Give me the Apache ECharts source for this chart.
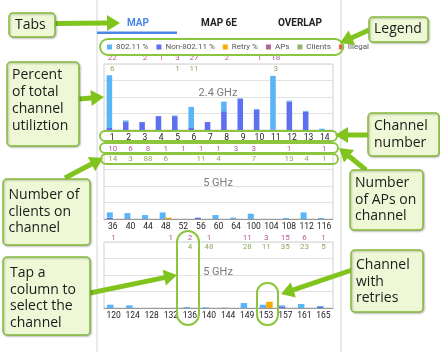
<!DOCTYPE html>
<html>
<head>
<meta charset="utf-8">
<script src="https://cdn.jsdelivr.net/npm/echarts@6/dist/echarts.min.js"></script>
<style>
html, body { margin: 0; padding: 0; background: #fff; }
#chart { width: 440px; height: 352px; }
</style>
</head>
<body>
<div id="chart"></div>
<script>
// 2.4 GHz band
const channels24 = ['1', '2', '3', '4', '5', '6', '7', '8', '9', '10', '11', '12', '13', '14']
const non24 = [3, 13, 12, 21, 21, 3, 12, 28.5, 47, 31, 1, 43, 28, 0]
const wifi24 = [80, 1.5, 0, 0, 1, 32, 0, 14.5, 1, 1, 81, 1.5, 1, 2]
const retry24 = [0, 0, 0, 0, 0, 0, 0, 0, 0, 0, 0, 0, 0, 0]
const aps24 = ['22', '', '2', '1', '3', '27', '', '2', '', '1', '18', '', '', '']
const clients24 = ['6', '', '', '', '1', '11', '', '', '', '', '3', '', '', '']

// 5 GHz, lower channels
const channels5a = ['36', '40', '44', '48', '52', '56', '60', '64', '100', '104', '108', '112', '116']
const non5a = [2, 1, 0, 0, 0, 2, 0, 0, 0, 0, 0, 0, 0]
const wifi5a = [8, 8, 6, 10, 0, 0, 6, 2, 8, 0, 1.5, 10, 1.5]
const retry5a = [0, 0, 0, 2, 0, 0, 0, 0, 0, 0, 0, 0, 0]
const aps5a = ['10', '6', '8', '1', '1', '1', '1', '3', '3', '', '1', '', '1']
const clients5a = ['14', '3', '88', '6', '', '11', '4', '', '7', '', '13', '4', '1']

// 5 GHz, upper channels
const channels5b = ['120', '124', '128', '132', '136', '140', '144', '149', '153', '157', '161', '165']
const non5b = [0, 0, 0, 0, 0, 0, 0, 0, 1, 2.5, 0, 1.5]
const wifi5b = [5, 4, 0, 0, 1.5, 1, 0.5, 7.5, 4, 1.5, 6, 1.5]
const retry5b = [0, 0, 0, 0, 0, 0, 0, 0, 9.5, 0, 0, 0]
const aps5b = ['1', '', '', '1', '2', '1', '', '11', '3', '15', '6', '1']
const clients5b = ['', '', '', '', '4', '48', '', '28', '11', '35', '23', '5']

const bandTitles = ['2.4 GHz', '5 GHz', '5 GHz']
const tabNames = ['MAP', 'MAP 6E', 'OVERLAP']
const legendNames = ['802.11 %', 'Non-802.11 %', 'Retry %', 'APs', 'Clients', 'Illegal']

const C_WIFI = '#5ab5f6'
const C_NON = '#5e6ff0'
const C_RETRY = '#f6a900'
const C_APS = '#9e3f7e'
const C_CLIENTS = '#7c9f4e'
const C_ILLEGAL = '#e53935'
const FONT = 'Roboto'

const bands = [
    { chans: channels24, non: non24, wifi: wifi24, retry: retry24, aps: aps24, clients: clients24, top: 64, apsMargin: 2, cliMargin: 1 },
    { chans: channels5a, non: non5a, wifi: wifi5a, retry: retry5a, aps: aps5a, clients: clients5a, top: 153, apsMargin: 0, cliMargin: 2 },
    { chans: channels5b, non: non5b, wifi: wifi5b, retry: retry5b, aps: aps5b, clients: clients5b, top: 242, apsMargin: 0, cliMargin: 1 }
]

const grids = []
const xAxes = []
const yAxes = []
const series = []

bands.forEach((b, i) => {
    grids.push({ left: 104, width: 229, top: b.top, height: 66, show: true, borderColor: '#d0d0d0', borderWidth: 1 })
    // channel numbers
    xAxes.push({
        gridIndex: i, type: 'category', data: b.chans,
        axisLine: { lineStyle: { color: '#9a9a9a' } },
        axisTick: { show: false },
        axisLabel: { interval: 0, color: '#222', fontSize: 8.5, fontFamily: FONT, margin: 3 }
    })
    // APs row
    xAxes.push({
        gridIndex: i, type: 'category', position: 'top', data: b.chans,
        axisLine: { show: false }, axisTick: { show: false }, splitLine: { show: false },
        axisLabel: { interval: 0, color: '#b35a97', fontSize: 8, fontFamily: FONT, margin: b.apsMargin, formatter: (v, idx) => b.aps[idx] }
    })
    // Clients row
    xAxes.push({
        gridIndex: i, type: 'category', position: 'top', data: b.chans,
        axisLine: { show: false }, axisTick: { show: false }, splitLine: { show: false },
        axisLabel: { inside: true, interval: 0, color: '#8bab5e', fontSize: 8, fontFamily: FONT, margin: b.cliMargin, formatter: (v, idx) => b.clients[idx] }
    })
    yAxes.push({
        gridIndex: i, type: 'value', min: 0, max: 100, interval: 25,
        axisLabel: { show: false }, axisLine: { show: false }, axisTick: { show: false },
        splitLine: { lineStyle: { color: '#e2e2e2' } }
    })
    series.push(
        { name: 'Non-802.11 %', type: 'bar', xAxisIndex: 3 * i, yAxisIndex: i, stack: 'use' + i, barWidth: '34%', barGap: '0%', data: b.non, itemStyle: { color: C_NON } },
        { name: '802.11 %', type: 'bar', xAxisIndex: 3 * i, yAxisIndex: i, stack: 'use' + i, barWidth: '34%', barGap: '0%', data: b.wifi, itemStyle: { color: C_WIFI } },
        { name: 'Retry %', type: 'bar', xAxisIndex: 3 * i, yAxisIndex: i, barWidth: '34%', barGap: '0%', data: b.retry, itemStyle: { color: C_RETRY } }
    )
})

// legend-only entries (counts are drawn on the top axes)
series.push(
    { name: 'APs', type: 'scatter', data: [], itemStyle: { color: C_APS } },
    { name: 'Clients', type: 'scatter', data: [], itemStyle: { color: C_CLIENTS } },
    { name: 'Illegal', type: 'scatter', data: [], itemStyle: { color: C_ILLEGAL } }
)

// ---- screenshot chrome and call-outs ----
const GREEN = '#82c41e'
const graphic = []

graphic.push(
    { type: 'line', shape: { x1: 97, y1: 0, x2: 97, y2: 352 }, style: { stroke: '#d4d4d4', lineWidth: 1 } },
    { type: 'line', shape: { x1: 341, y1: 0, x2: 341, y2: 352 }, style: { stroke: '#d4d4d4', lineWidth: 1 } },
    { type: 'rect', shape: { x: 97, y: 31.5, width: 80, height: 2.5 }, style: { fill: '#4a86e8' } }
)
const tabX = [138, 219, 300]
tabNames.forEach((t, i) => {
    graphic.push({
        type: 'text', x: tabX[i], y: 23,
        style: { text: t, fill: i === 0 ? '#4a86e8' : '#222', fontSize: 10, fontWeight: 'bold', fontFamily: FONT, align: 'center', verticalAlign: 'middle' }
    })
})
const titleY = [93, 183, 272]
bandTitles.forEach((t, i) => {
    graphic.push({
        type: 'text', x: 218, y: titleY[i],
        style: { text: t, fill: '#7c7c7c', fontSize: 11, fontFamily: FONT, align: 'center', verticalAlign: 'middle' }
    })
})

// highlight outlines
const outlines = [
    [100, 39, 243, 16, 8],
    [100, 131, 237, 10, 5],
    [100, 143, 238, 10, 5],
    [101, 154, 237, 10, 5],
    [177, 231, 22, 94, 11],
    [257, 283, 21, 42, 10]
]
outlines.forEach(o => {
    graphic.push({ type: 'rect', z: 100, shape: { x: o[0], y: o[1], width: o[2], height: o[3], r: o[4] }, style: { fill: 'none', stroke: '#8cc63f', lineWidth: 2 } })
})

// call-out boxes
const notes = [
    { x: 9, y: 13, w: 46, h: 24, tx: 15, ty: 25, lh: 17, text: 'Tabs' },
    { x: 7, y: 62, w: 72, h: 84, tx: 12, ty: 75, lh: 17, text: 'Percent\nof total\nchannel\nutiliztion' },
    { x: 3, y: 179, w: 87, h: 66, tx: 8.5, ty: 195, lh: 16.7, text: 'Number of\nclients on\nchannel' },
    { x: 3, y: 257, w: 87, h: 78, tx: 10, ty: 273, lh: 16.7, text: 'Tap a\ncolumn to\nselect the\nchannel' },
    { x: 369, y: 17, w: 59, h: 25, tx: 374, ty: 29.5, lh: 17, text: 'Legend' },
    { x: 368, y: 113, w: 71, h: 43, tx: 374, ty: 126, lh: 16.7, text: 'Channel\nnumber' },
    { x: 350, y: 170, w: 73, h: 60, tx: 355, ty: 183, lh: 16.7, text: 'Number\nof APs on\nchannel' },
    { x: 351, y: 250, w: 72, h: 62, tx: 356, ty: 265, lh: 16.7, text: 'Channel\nwith\nretries' }
]
notes.forEach(n => {
    graphic.push({
        type: 'rect', z: 110, shape: { x: n.x, y: n.y, width: n.w, height: n.h, r: 4 },
        style: { fill: '#eef8d6', stroke: '#86bb3a', lineWidth: 1.5, shadowBlur: 2, shadowColor: 'rgba(0,0,0,0.25)', shadowOffsetX: 1, shadowOffsetY: 1 }
    })
    graphic.push({
        type: 'text', z: 111, x: n.tx, y: n.ty - n.lh / 2,
        style: { text: n.text, fill: '#1b1b1b', fontSize: 14, fontFamily: 'Open Sans', lineHeight: n.lh, verticalAlign: 'top' }
    })
})

// arrows: tail -> tip
const arrows = [
    [55, 23.5, 120, 23],
    [79, 99, 104, 97],
    [65, 178, 103, 158],
    [90, 293, 177, 275],
    [369, 30, 340, 43],
    [368, 135, 335, 135],
    [366, 170, 339, 148],
    [352, 270, 281, 294]
]
function arrowPoints(x1, y1, x2, y2) {
    const len = Math.hypot(x2 - x1, y2 - y1)
    const dx = (x2 - x1) / len, dy = (y2 - y1) / len
    const nx = -dy, ny = dx
    const w = 2.5, hw = 8, hl = 13
    const bx = x2 - dx * hl, by = y2 - dy * hl
    return [
        [x1 + nx * w, y1 + ny * w], [bx + nx * w, by + ny * w], [bx + nx * hw, by + ny * hw],
        [x2, y2],
        [bx - nx * hw, by - ny * hw], [bx - nx * w, by - ny * w], [x1 - nx * w, y1 - ny * w]
    ]
}
arrows.forEach(a => {
    graphic.push({ type: 'polygon', z: 105, shape: { points: arrowPoints(a[0], a[1], a[2], a[3]) }, style: { fill: GREEN } })
})

const myChart = echarts.init(document.getElementById('chart'))
myChart.setOption({
    animation: false,
    textStyle: { fontFamily: FONT },
    legend: {
        data: legendNames, left: 107, top: 43, padding: 0,
        icon: 'rect', itemWidth: 5, itemHeight: 5, itemGap: 8,
        textStyle: { fontSize: 8, color: '#555', fontFamily: FONT, padding: [0, 0, 0, -1] }
    },
    grid: grids,
    xAxis: xAxes,
    yAxis: yAxes,
    series: series,
    graphic: graphic
})
</script>
</body>
</html>
